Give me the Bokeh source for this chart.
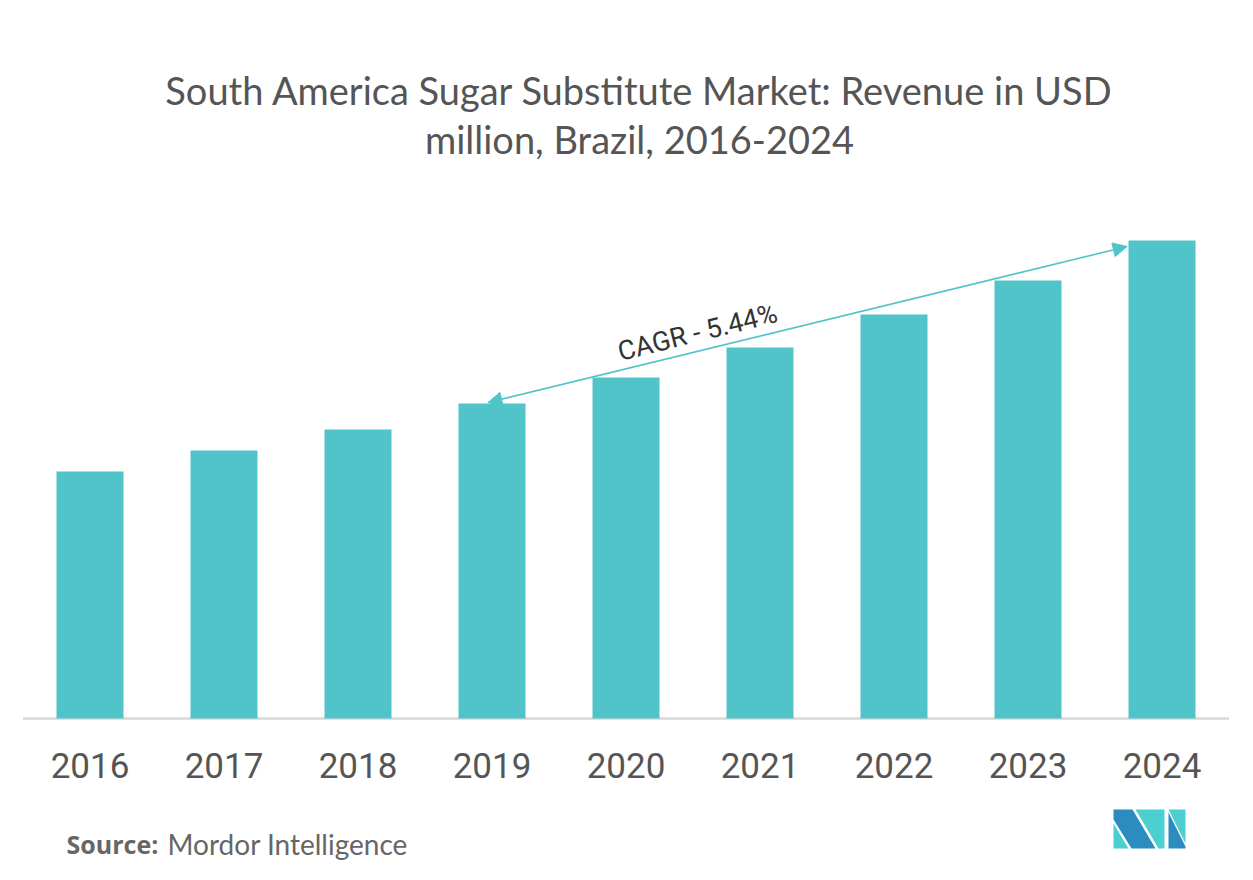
from bokeh.plotting import figure
from bokeh.models import Range1d, Arrow, NormalHead, ColumnDataSource
from bokeh.core.properties import value
from bokeh.embed import file_html
from bokeh.resources import INLINE

# ---- data ----
years = ["2016", "2017", "2018", "2019", "2020", "2021", "2022", "2023", "2024"]
revenue = [123.5, 134.0, 144.5, 157.5, 170.5, 185.5, 202.0, 219.0, 239.0]
cagr_label = "CAGR - 5.44%"
cagr_from, cagr_to = "2019", "2024"
title_lines = ["South America Sugar Substitute Market: Revenue in USD",
               "million, Brazil, 2016-2024"]

W, H = 1253, 880
BAR = "#51C4CA"

idx = list(range(len(years)))
# x: bar i centred at 89.5 + 134*i px ; y: 0 at 718 px, 2 px per unit
p = figure(width=W, height=H, output_backend="svg", toolbar_location=None,
           x_range=Range1d(-89.5 / 134, (W - 89.5) / 134),
           y_range=Range1d(-(H - 718) / 2, 718 / 2),
           x_axis_location=None, y_axis_location=None,
           min_border=0, outline_line_color=None,
           background_fill_color="white", border_fill_color="white")
p.grid.visible = False
p.extra_x_ranges = {"px": Range1d(0, W)}
p.extra_y_ranges = {"px": Range1d(H, 0)}

src = ColumnDataSource(dict(x=idx, top=revenue, year=years))

# baseline
p.segment(x0=[idx[0] - 0.5], x1=[idx[-1] + 0.5], y0=[0], y1=[0],
          line_color="#d9d9d9", line_width=2.5)

# CAGR arrow (behind bars)
i0, i1 = years.index(cagr_from), years.index(cagr_to)
arrow = Arrow(x_start=i0 - 0.03, y_start=revenue[i0] + 0.5,
              x_end=i1 - 0.26, y_end=revenue[i1] - 3,
              line_color=BAR, line_width=1.6, level="underlay",
              start=NormalHead(size=14, fill_color=BAR, line_color=BAR),
              end=NormalHead(size=14, fill_color=BAR, line_color=BAR))
p.add_layout(arrow)

p.vbar(x="x", top="top", width=0.5, bottom=0, source=src,
       fill_color=BAR, line_color=None)

# year labels
p.text(x="x", y=-23.5, text="year", source=src,
       text_font=value("Roboto"), text_font_size="35px",
       text_color="#555555", text_align="center", text_baseline="alphabetic")

# CAGR label
p.text(x=[697], y=[332], text=[cagr_label], x_range_name="px", y_range_name="px",
       text_font=value("Roboto"), text_font_size="27px", text_color="#333333",
       text_align="center", text_baseline="middle", angle=0.243)

# title
p.text(x=[639, 639], y=[89, 138], text=title_lines, x_range_name="px", y_range_name="px",
       text_font=value("Lato"), text_font_size="38px", text_color="#555555",
       text_align="center", text_baseline="alphabetic")

# source
p.text(x=[66], y=[843], text=["Source:"], x_range_name="px", y_range_name="px",
       text_font=value("Open Sans"), text_font_size="25px", text_font_style="bold",
       text_color="#666666", text_align="left", text_baseline="alphabetic")
p.text(x=[167], y=[843], text=["Mordor Intelligence"], x_range_name="px", y_range_name="px",
       text_font=value("Lato"), text_font_size="28px",
       text_color="#666666", text_align="left", text_baseline="alphabetic")

# logo
TEAL, BLUE = "#4BCFD1", "#2B8CBF"
logo_xs = [[1113, 1113, 1128],
           [1113, 1132, 1155, 1131, 1113],
           [1135, 1164, 1164, 1158],
           [1168, 1185, 1185],
           [1168, 1185, 1185, 1168]]
logo_ys = [[823, 848, 848],
           [809, 809, 848, 848, 819],
           [809, 809, 848, 848],
           [809, 809, 843],
           [812, 846, 848, 848]]
p.patches(xs=logo_xs, ys=logo_ys, x_range_name="px", y_range_name="px",
          fill_color=[TEAL, BLUE, TEAL, TEAL, BLUE], line_color=None)

open("out.html", "w").write(file_html(p, INLINE))
